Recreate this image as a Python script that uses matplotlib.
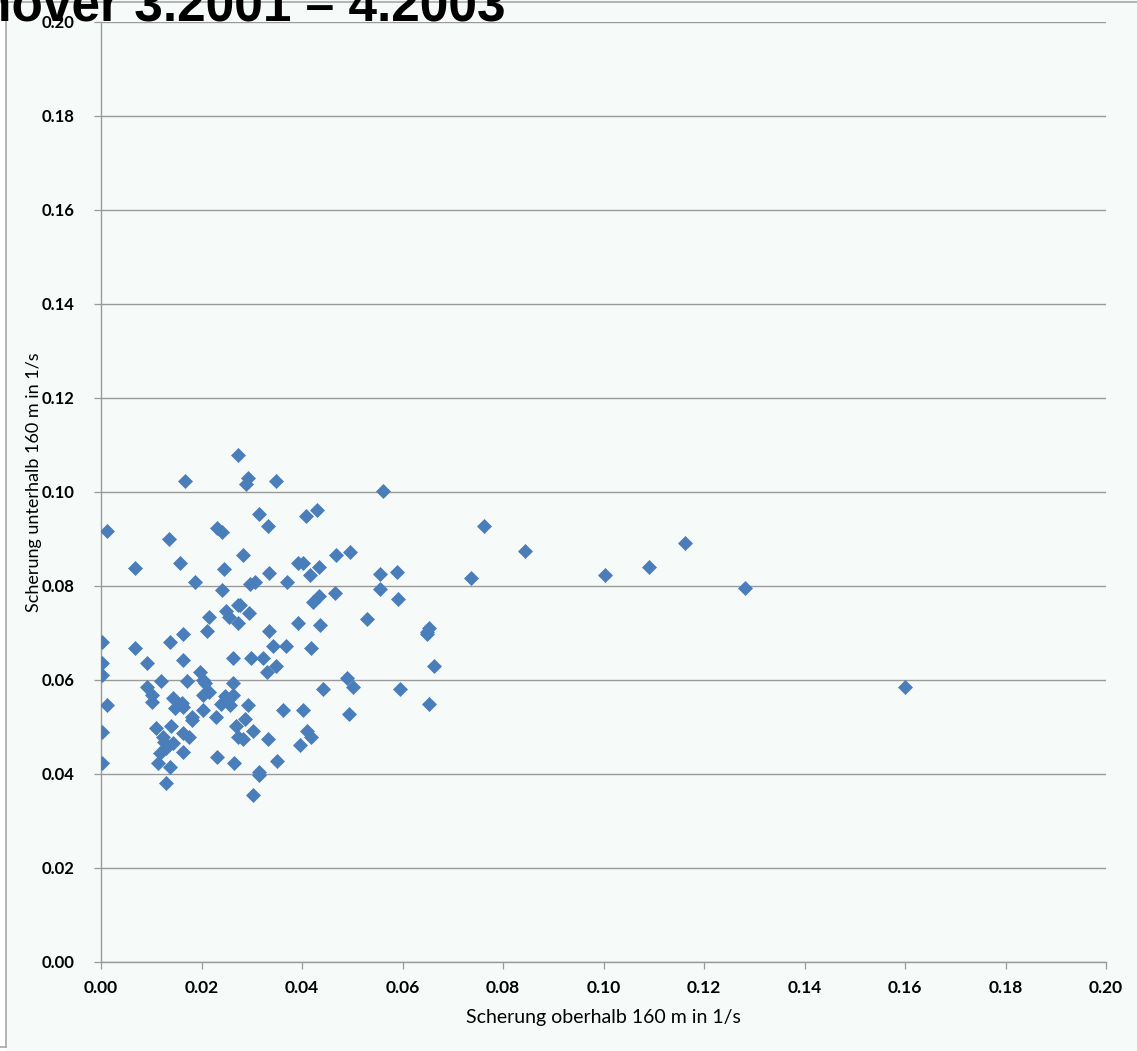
import matplotlib
matplotlib.use('Agg')
import matplotlib.pyplot as plt
from matplotlib.lines import Line2D

plt.rcParams['font.family'] = ['Lato', 'DejaVu Sans']

# Scherung oberhalb / unterhalb 160 m (1/s)
scher_oben = [
    0.0002, 0.0002, 0.0002, 0.0002, 0.0002, 0.0012, 0.0012, 0.0068, 0.0068, 0.0092,
    0.0092, 0.0101, 0.0101, 0.0109, 0.0113, 0.0117, 0.0119, 0.0123, 0.0125, 0.0129,
    0.0129, 0.0135, 0.0137, 0.0137, 0.0139, 0.0143, 0.0143, 0.0147, 0.0157, 0.0161,
    0.0163, 0.0163, 0.0163, 0.0163, 0.0163, 0.0167, 0.0171, 0.0175, 0.0181, 0.0181,
    0.0187, 0.0197, 0.0203, 0.0207, 0.0203, 0.0203, 0.0211, 0.0215, 0.0215, 0.0229,
    0.0231, 0.0231, 0.0241, 0.0241, 0.0239, 0.0245, 0.0249, 0.0255, 0.0247, 0.0257,
    0.0263, 0.0263, 0.0263, 0.0265, 0.0269, 0.0273, 0.0273, 0.0277, 0.0273, 0.0273,
    0.0283, 0.0283, 0.0287, 0.0289, 0.0293, 0.0295, 0.0293, 0.0297, 0.0299, 0.0302,
    0.0302, 0.0306, 0.0314, 0.0314, 0.0314, 0.0322, 0.0330, 0.0332, 0.0332, 0.0334,
    0.0334, 0.0342, 0.0348, 0.0348, 0.0350, 0.0362, 0.0368, 0.0370, 0.0392, 0.0392,
    0.0396, 0.0402, 0.0402, 0.0408, 0.0410, 0.0416, 0.0418, 0.0418, 0.0422, 0.0430,
    0.0434, 0.0434, 0.0436, 0.0442, 0.0466, 0.0468, 0.0490, 0.0496, 0.0494, 0.0501,
    0.0529, 0.0555, 0.0555, 0.0561, 0.0589, 0.0591, 0.0595, 0.0649, 0.0653, 0.0649,
    0.0653, 0.0663, 0.0736, 0.0762, 0.0844, 0.1003, 0.1091, 0.1162, 0.1282, 0.1600,
]
scher_unten = [
    0.0681, 0.0636, 0.0611, 0.0489, 0.0423, 0.0917, 0.0547, 0.0838, 0.0668, 0.0636,
    0.0585, 0.0568, 0.0553, 0.0498, 0.0423, 0.0445, 0.0598, 0.0479, 0.0468, 0.0455,
    0.0381, 0.0900, 0.0681, 0.0415, 0.0502, 0.0562, 0.0466, 0.0540, 0.0849, 0.0551,
    0.0543, 0.0643, 0.0698, 0.0487, 0.0447, 0.1023, 0.0598, 0.0479, 0.0521, 0.0515,
    0.0809, 0.0617, 0.0600, 0.0594, 0.0568, 0.0536, 0.0704, 0.0734, 0.0574, 0.0521,
    0.0436, 0.0923, 0.0915, 0.0791, 0.0549, 0.0836, 0.0747, 0.0734, 0.0566, 0.0547,
    0.0594, 0.0568, 0.0647, 0.0423, 0.0502, 0.1079, 0.0760, 0.0760, 0.0721, 0.0479,
    0.0866, 0.0474, 0.0517, 0.1017, 0.1030, 0.0743, 0.0547, 0.0804, 0.0647, 0.0491,
    0.0355, 0.0809, 0.0953, 0.0404, 0.0398, 0.0647, 0.0617, 0.0928, 0.0474, 0.0828,
    0.0704, 0.0672, 0.1023, 0.0630, 0.0428, 0.0536, 0.0672, 0.0809, 0.0721, 0.0849,
    0.0462, 0.0849, 0.0536, 0.0949, 0.0491, 0.0823, 0.0668, 0.0479, 0.0766, 0.0962,
    0.0840, 0.0779, 0.0717, 0.0581, 0.0785, 0.0866, 0.0604, 0.0872, 0.0528, 0.0585,
    0.0730, 0.0826, 0.0794, 0.1002, 0.0830, 0.0772, 0.0581, 0.0702, 0.0711, 0.0698,
    0.0549, 0.0630, 0.0817, 0.0928, 0.0874, 0.0823, 0.0840, 0.0891, 0.0796, 0.0585,
]

ticks = [0.00, 0.02, 0.04, 0.06, 0.08, 0.10, 0.12, 0.14, 0.16, 0.18, 0.20]
tick_labels = ['%.2f' % t for t in ticks]

bg = '#f6faf8'
grid_col = '#9a9a9a'

fig = plt.figure(figsize=(11.37, 10.51), dpi=100, facecolor=bg)
ax = fig.add_axes([101 / 1137, 1 - 962 / 1051, 1005 / 1137, 940 / 1051])
ax.set_facecolor(bg)

ax.plot(scher_oben, scher_unten, ls='none', marker='D', ms=6.8,
        mfc='#4a7ebb', mec='#4a7ebb', mew=0.5, zorder=3)

ax.set_xlim(0, 0.2)
ax.set_ylim(0, 0.2)
ax.set_xticks(ticks)
ax.set_xticklabels(tick_labels, fontweight='bold', fontsize=12.5)
ax.set_yticks(ticks)
ax.set_yticklabels(tick_labels, fontweight='bold', fontsize=12)
ax.tick_params(direction='out', length=5, width=0.9, color=grid_col)
ax.tick_params(axis='y', pad=14)
ax.tick_params(axis='x', pad=8)
ax.yaxis.grid(True, color=grid_col, lw=1.0)
ax.set_axisbelow(True)

for side in ['top', 'right']:
    ax.spines[side].set_visible(False)
for side in ['left', 'bottom']:
    ax.spines[side].set_color(grid_col)
    ax.spines[side].set_linewidth(1.0)

ax.set_xlabel('Scherung oberhalb 160 m in 1/s', fontsize=14, labelpad=9)
ax.set_ylabel('Scherung unterhalb 160 m in 1/s', fontsize=13)
ax.yaxis.set_label_coords(-0.059, 0.51)

# Rand des Diagrammbereichs links und oben
fig.patches.append(plt.Rectangle((0, 0), 6 / 1137, 1, transform=fig.transFigure,
                                 facecolor='white', edgecolor='none', zorder=0))
fig.lines.append(Line2D([6 / 1137, 6 / 1137], [1 - 1047 / 1051, 1], transform=fig.transFigure,
                        color='#a8a8a8', lw=1.2))
fig.lines.append(Line2D([0, 6 / 1137], [1 - 1047 / 1051, 1 - 1047 / 1051], transform=fig.transFigure,
                        color='#a8a8a8', lw=1.2))
fig.lines.append(Line2D([0, 1], [1 - 1.5 / 1051, 1 - 1.5 / 1051], transform=fig.transFigure,
                        color='#a8a8a8', lw=1.2))

fig.text(-20 / 1137, 1 - 22 / 1051, 'nover 3.2001 \u2013 4.2003', fontsize=37,
         fontweight='bold', family=['Liberation Sans', 'DejaVu Sans'], ha='left', va='baseline')

fig.savefig('out.png', dpi=100, facecolor=bg)
